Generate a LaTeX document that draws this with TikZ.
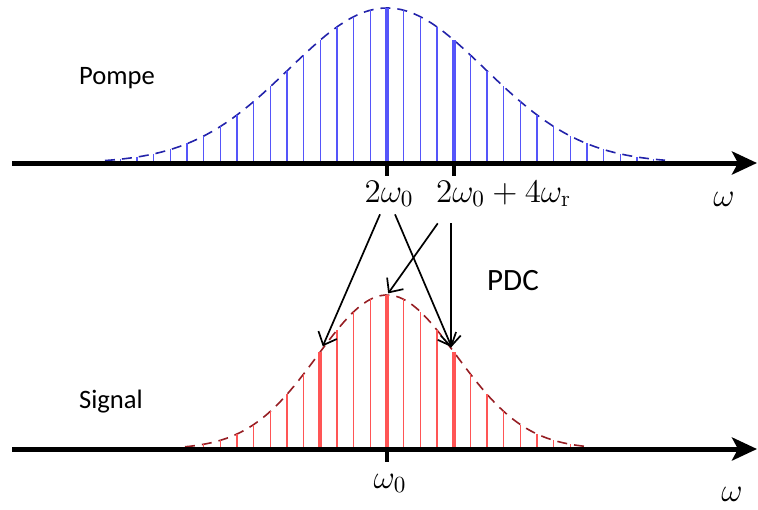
\RequirePackage{fix-cm}
\documentclass[tikz,border=0pt]{standalone}
\usepackage{fontspec}
\newfontfamily\calfont{Carlito}
\usepackage{tikz}
\usetikzlibrary{arrows.meta,calc}
\definecolor{pumpblue}{RGB}{85,85,250}
\definecolor{pumpdash}{RGB}{35,35,170}
\definecolor{sigred}{RGB}{255,85,85}
\definecolor{sigdash}{RGB}{150,30,35}

\begin{document}
\begin{tikzpicture}[
  x=0.5pt, y=-0.5pt,
  axis/.style={line width=2.5pt, -{Stealth[length=12.5pt, width=11.5pt, inset=3pt]}},
  tickmark/.style={line width=2pt},
  pumpline/.style={pumpblue, line width=0.7pt},
  pumpmain/.style={pumpblue, line width=2pt},
  pumpcurve/.style={pumpdash, line width=0.8pt, dash pattern=on 5pt off 3.5pt},
  sigline/.style={sigred, line width=0.75pt},
  sigmain/.style={sigred, line width=2pt},
  sigcurve/.style={sigdash, line width=0.8pt, dash pattern=on 5pt off 3.5pt},
  pdc/.style={line width=0.85pt, -{Straight Barb[length=5.5pt, width=10pt]}},
  txt/.style={font=\calfont\fontsize{13.3}{15}\selectfont, inner sep=0pt},
  mathlab/.style={font=\fontsize{16.5}{19}\selectfont, inner sep=0pt}
]
\useasboundingbox (0,0) rectangle (758,509);

% pump comb
\draw[pumpcurve] plot[domain=105:665, samples=90] (\x, {163-155*exp(-0.5*((\x-387)/98)^2)});
\foreach \k in {-16,...,16}
  \draw[pumpline] ({387+16.667*\k},163) -- ({387+16.667*\k},{163-155*exp(-0.5*(\k/5.9)^2)});
\coordinate (pc) at (387,163);
\coordinate (pr) at (453.67,163);
\draw[pumpmain] (pc) -- (387,8);
\draw[pumpmain] (pr) -- (453.67,{163-155*exp(-0.5*(4/5.9)^2)});

% signal comb
\draw[sigcurve] plot[domain=185:590, samples=90] (\x, {449-154*exp(-0.5*((\x-387)/69.5)^2)});
\foreach \k in {-11,...,11}
  \draw[sigline] ({387+16.667*\k},449) -- ({387+16.667*\k},{449-154*exp(-0.5*(\k/4.17)^2)});
\coordinate (sigl) at (320.33,{449-154*exp(-0.5*(4/4.17)^2)});
\coordinate (sigc) at (387,295);
\coordinate (sigr) at (453.67,{449-154*exp(-0.5*(4/4.17)^2)});
\draw[sigmain] (320.33,449) -- (sigl);
\draw[sigmain] (387,449) -- (sigc);
\draw[sigmain] (453.67,449) -- (sigr);

% axes
\coordinate (ptop0) at (12,163);
\coordinate (ptop1) at (757,163);
\coordinate (pbot0) at (12,449);
\coordinate (pbot1) at (757,449);
\draw[axis] (ptop0) -- (ptop1);
\draw[axis] (pbot0) -- (pbot1);
\draw[tickmark] (pc) -- ++(0,13);
\draw[tickmark] (pr) -- ++(0,13);
\draw[tickmark] (387,449) -- ++(0,13);

% labels
\node[txt, anchor=base] (lpump) at (117,84) {Pompe};
\node[txt, anchor=base] (lsig) at (111,408) {Signal};
\node[txt, font=\calfont\fontsize{15.5}{18}\selectfont, anchor=base] (lpdc) at (513,290) {PDC};
\node[mathlab, anchor=base] (l2w0) at (389,202) {$2\omega_0$};
\node[mathlab, anchor=base] (l2w4) at (503.5,202) {$2\omega_0+4\omega_{\mathrm{r}}$};
\node[mathlab, anchor=base] (lw0) at (390,488) {$\omega_0$};
\node[mathlab, anchor=base] (lwtop) at (724,206) {$\omega$};
\node[mathlab, anchor=base] (lwbot) at (732,501) {$\omega$};

% PDC arrows
\coordinate (a4) at ($(l2w4.south west)+(15,16)$);
\draw[pdc, shorten >=3pt] ($(l2w0.south)+(-9,7)$) -- (sigl);
\draw[pdc, shorten >=2.5pt] ($(l2w0.south)+(6,7)$) -- (sigr);
\draw[pdc, shorten >=1pt] ($(l2w4.south west)+(2,16)$) -- (sigc);
\draw[pdc, shorten >=2pt] (a4) -- (a4 |- sigr);
\end{tikzpicture}
\end{document}
